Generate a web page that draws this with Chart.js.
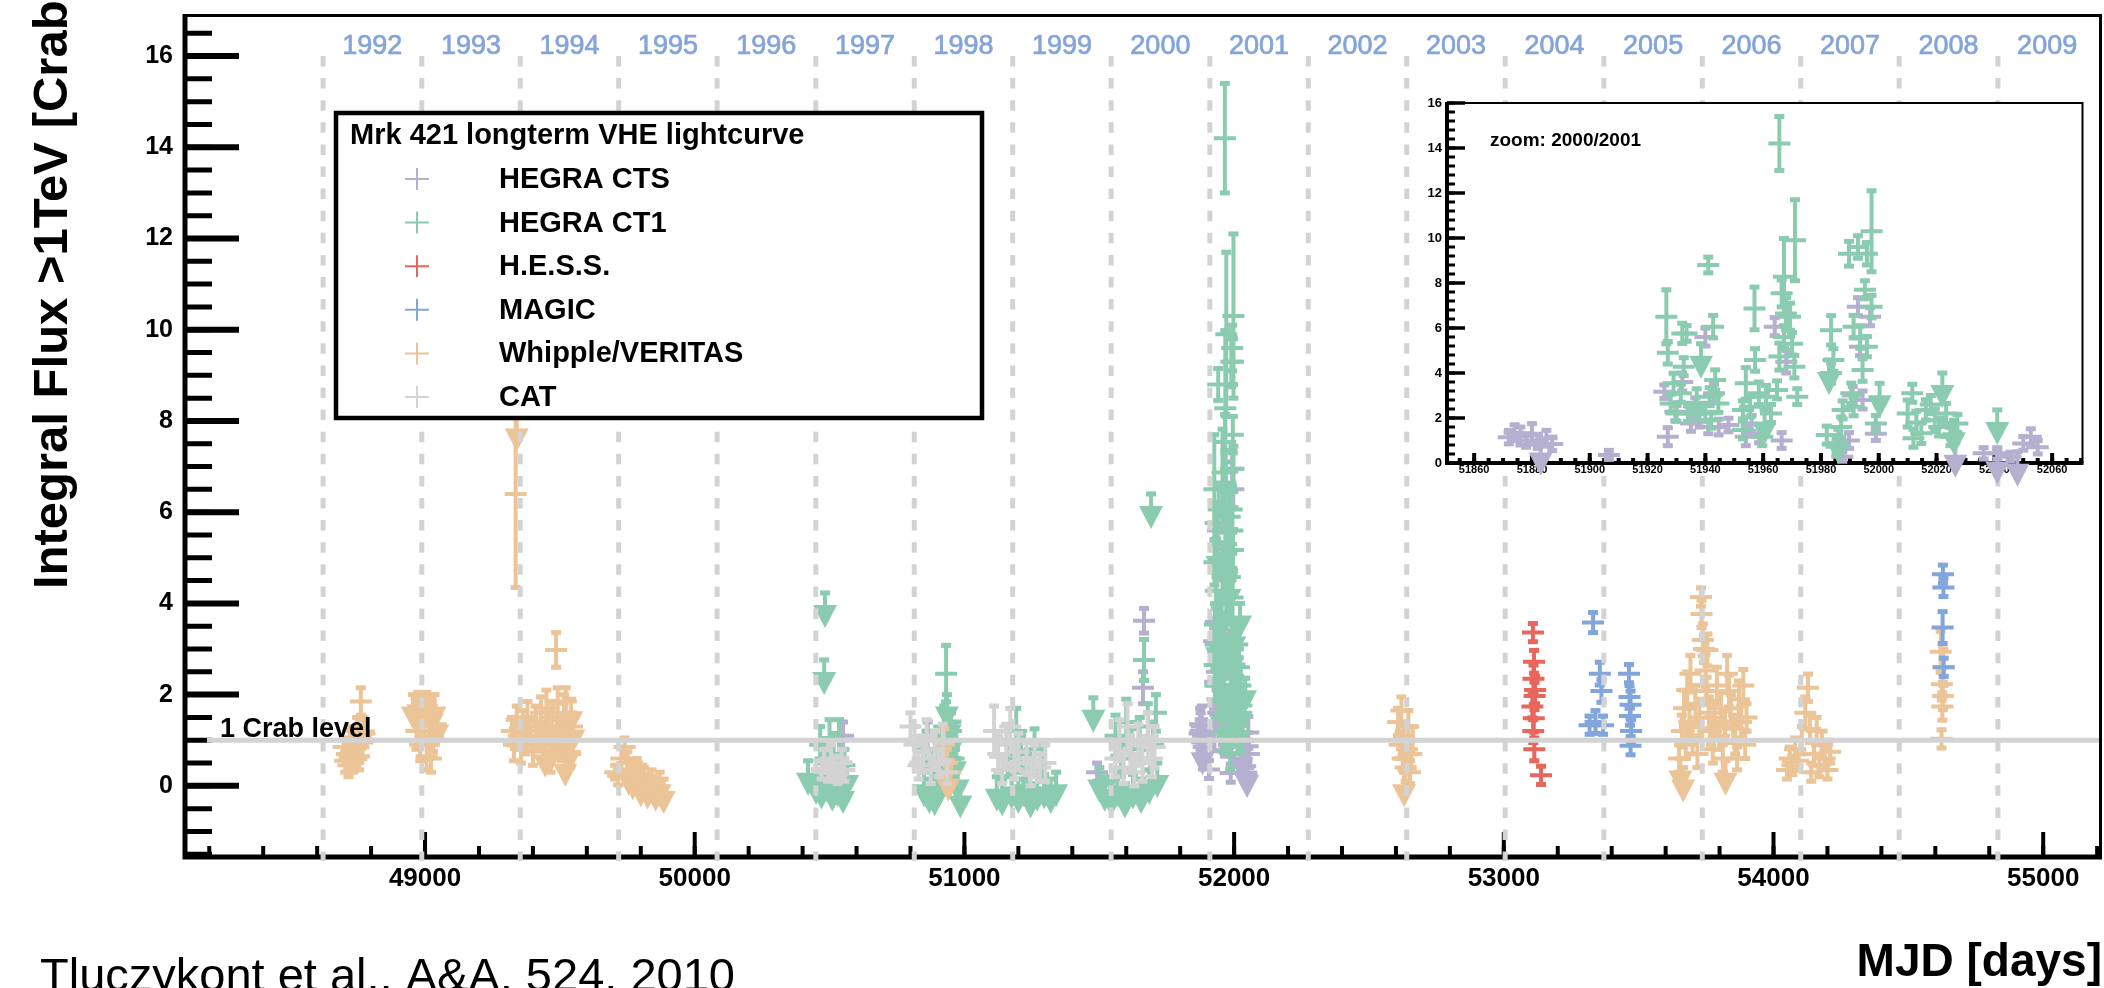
<!DOCTYPE html>
<html>
<head>
<meta charset="utf-8">
<title>Mrk 421 longterm VHE lightcurve</title>
<script src="https://cdn.jsdelivr.net/npm/chart.js@4.4.1/dist/chart.umd.min.js"></script>
<style>
  html, body { margin: 0; padding: 0; background: #fff; }
  #wrap { position: relative; width: 2104px; height: 988px; overflow: hidden; }
  #main { position: absolute; left: 0; top: 0; }
  #zoom { position: absolute; left: 1412px; top: 88px; }
</style>
</head>
<body>
<div id="wrap">
  <canvas id="main" width="2104" height="988"></canvas>
  <canvas id="zoom" width="678" height="400"></canvas>
</div>
<script>
// year markers: MJD of 1 January
const yearLabels = ["1992", "1993", "1994", "1995", "1996", "1997", "1998", "1999", "2000",
  "2001", "2002", "2003", "2004", "2005", "2006", "2007", "2008", "2009"]
const yearStarts = [48622, 48988, 49353, 49718, 50083, 50449, 50814, 51179, 51544,
  51910, 52275, 52640, 53005, 53371, 53736, 54101, 54466, 54832]

// labelled tick values
const xTicks = [49000, 50000, 51000, 52000, 53000, 54000, 55000]
const yTicks = [0, 2, 4, 6, 8, 10, 12, 14, 16]
const zoomXTicks = [51860, 51880, 51900, 51920, 51940, 51960, 51980, 52000, 52020, 52040, 52060]
const zoomYTicks = [0, 2, 4, 6, 8, 10, 12, 14, 16]

// detections are [MJD, flux in Crab units, error], limits are [MJD, upper limit]
const ctsPoints = [
  [50550, 1.1, 0.3], [50864, 1.1, 0.3], [51492, 0.3, 0.2], [51662, 2.15, 0.35], [51666, 3.62, 0.27],
  [51872, 1.15, 0.3], [51874, 1.35, 0.35], [51876, 1.2, 0.4], [51878, 1.0, 0.3], [51880, 1.3, 0.45],
  [51882, 0.95, 0.3], [51885, 1.1, 0.35], [51887, 0.85, 0.3], [51906.6, 0.36, 0.2],
  [51925.8, 3.17, 0.3], [51927, 1.17, 0.4], [51929.6, 2.28, 0.4], [51932, 3.6, 0.4], [51935, 1.76, 0.35],
  [51936.5, 2.5, 0.4], [51938, 1.9, 0.3], [51940, 5.6, 0.4], [51941, 1.6, 0.3], [51943, 3.1, 0.4],
  [51944.6, 1.6, 0.35], [51948, 1.69, 0.3], [51954, 1.17, 0.4], [51956, 1.76, 0.35], [51958.6, 1.3, 0.4],
  [51964, 6.06, 0.4], [51966.4, 1.0, 0.35], [51968, 4.5, 0.5], [51987.4, 0.28, 0.2], [51989.7, 1.0, 0.35],
  [51991, 3.0, 0.4], [51992.8, 6.95, 0.4], [51993.5, 5.17, 0.4], [51994.4, 2.8, 0.4], [51997, 6.5, 0.4],
  [51999, 1.3, 0.3], [52036.3, 0.43, 0.25], [52041, 0.43, 0.25], [52045.6, 0.28, 0.2], [52050, 0.87, 0.3],
  [52052.6, 1.17, 0.35], [52055, 0.7, 0.3],
]
const ctsLimits = [[51883, 1.0], [52026.5, 0.9], [52041, 0.6], [52048, 0.5]]

const ct1Points = [
  [50465, 0.9, 0.4], [50485, 0.6, 0.4], [50500, 1.05, 0.4], [50515, 0.7, 0.45], [50535, 1.0, 0.45], [50555, 0.45, 0.35],
  [50860, 0.8, 0.4], [50880, 0.4, 0.35], [50900, 0.7, 0.4], [50925, 1.3, 0.45], [50932, 2.46, 0.62], [50940, 0.9, 0.4],
  [50950, 1.2, 0.4], [50960, 0.6, 0.4], [50970, 1.0, 0.4],
  [51160, 0.6, 0.4], [51192, 1.2, 0.5], [51210, 0.7, 0.4], [51230, 0.4, 0.35], [51260, 0.8, 0.45], [51290, 0.5, 0.4],
  [51560, 1.1, 0.45], [51580, 0.6, 0.4], [51600, 1.4, 0.5], [51620, 0.8, 0.45], [51650, 1.0, 0.5], [51666, 2.76, 0.45],
  [51680, 1.3, 0.5], [51700, 0.9, 0.5], [51710, 1.6, 0.4],
  [51926.5, 6.5, 1.2], [51927, 4.9, 0.5], [51928, 2.65, 0.4], [51929, 3.54, 0.45], [51930, 2.2, 0.35],
  [51932, 5.76, 0.45], [51933.5, 5.76, 0.35], [51932.5, 4.28, 0.4], [51931.5, 3.1, 0.4], [51934, 2.2, 0.35],
  [51941, 8.8, 0.35], [51942.7, 6.06, 0.5], [51943.4, 3.69, 0.45], [51941.5, 2.95, 0.4], [51940, 2.2, 0.35],
  [51944.5, 2.65, 0.4], [51942, 1.9, 0.35],
  [51957, 6.87, 0.95], [51954, 3.54, 0.7], [51957.2, 4.58, 0.5], [51955.5, 2.5, 0.45], [51953, 2.36, 0.4],
  [51953, 1.47, 0.4], [51958.5, 3.1, 0.5], [51961, 2.95, 0.5], [51959.7, 1.17, 0.4], [51962.7, 2.2, 0.4],
  [51965.6, 14.2, 1.2], [51967.2, 8.28, 1.7], [51966.4, 7.54, 0.6], [51967.9, 6.65, 0.7], [51965.6, 4.73, 0.6],
  [51967.2, 5.6, 0.5], [51969.3, 6.5, 0.6], [51970, 5.3, 0.5], [51970.8, 4.28, 0.5], [51971, 9.9, 1.8],
  [51971.8, 2.95, 0.35], [51964.8, 3.25, 0.4],
  [51983.5, 5.9, 0.65], [51984.3, 4.58, 0.5], [51983.5, 4.0, 0.45], [51982, 1.24, 0.4], [51987, 1.6, 0.45],
  [51985.4, 0.72, 0.35], [51987.5, 2.36, 0.4],
  [51989.7, 9.3, 0.55], [51992.8, 9.6, 0.5], [51995.9, 9.3, 0.5], [51997.5, 10.3, 1.8], [51995.2, 7.7, 0.4],
  [51997.5, 6.95, 0.5], [51991.3, 6.06, 0.5], [51993.6, 5.6, 0.5], [51995.9, 5.17, 0.45], [51994.4, 4.13, 0.5],
  [51990.5, 3.1, 0.45], [51991.3, 2.5, 0.4], [51999, 1.76, 0.35],
  [52010, 2.2, 0.6], [52011.6, 3.1, 0.4], [52014.7, 1.32, 0.45], [52016.3, 2.36, 0.45], [52019.4, 1.9, 0.5],
  [52020.9, 1.6, 0.4], [52023.3, 2.2, 0.45], [52024.8, 1.17, 0.4], [52027.2, 1.76, 0.4], [52013, 1.8, 0.5],
  [52018, 2.6, 0.4], [52012, 1.1, 0.4],
]
const ct1Limits = [
  [50420, 0.55], [50450, 0.35], [50470, 0.25], [50483, 4.23], [50480, 2.76], [50490, 0.4], [50510, 0.2],
  [50530, 0.3], [50550, 0.15], [50565, 0.5],
  [50850, 0.3], [50870, 0.15], [50890, 0.1], [50910, 0.35], [50935, 2.0], [50945, 1.6], [50955, 1.3],
  [50965, 0.8], [50975, 0.4], [50985, 0.05],
  [51120, 0.2], [51140, 0.1], [51175, 0.25], [51200, 0.15], [51220, 0.3], [51245, 0.05], [51270, 0.2],
  [51295, 0.25], [51320, 0.15], [51340, 0.3],
  [51478, 1.93], [51500, 0.4], [51520, 0.2], [51545, 0.1], [51570, 0.3], [51595, 0.05], [51625, 0.25],
  [51655, 0.15], [51685, 0.35], [51692, 6.4], [51715, 0.5],
  [51938.5, 5.3], [51937, 3.3], [51960.5, 2.36], [51982.8, 4.58], [51986, 1.5], [52000.3, 3.54],
  [52022, 4.0], [52026, 1.9], [52041, 2.36],
]

const hessPoints = [
  [53108, 3.36, 0.2], [53112, 2.72, 0.25], [53110, 2.35, 0.3], [53116, 2.1, 0.3], [53114, 1.97, 0.3],
  [53106, 1.74, 0.25], [53111, 1.48, 0.3], [53109, 1.2, 0.25], [53113, 0.8, 0.25], [53138, 0.23, 0.2],
]

const magicPoints = [
  [53331, 3.58, 0.22], [53356, 2.46, 0.25], [53362, 2.08, 0.25], [53318, 1.33, 0.2], [53368, 1.33, 0.2],
  [53340, 1.4, 0.25], [53464, 2.46, 0.2], [53470, 1.78, 0.3], [53468, 1.53, 0.2], [53472, 1.2, 0.25],
  [53470, 0.88, 0.2], [53466, 1.95, 0.25],
  [54628, 4.64, 0.2], [54630, 4.35, 0.2], [54627, 3.47, 0.35], [54631, 2.6, 0.2],
]

const whipplePoints = [
  [48698, 0.85, 0.2], [48704, 0.55, 0.25], [48710, 0.7, 0.2], [48716, 0.45, 0.25], [48722, 1.0, 0.3],
  [48728, 0.6, 0.25], [48734, 0.5, 0.2], [48740, 0.8, 0.3], [48748, 1.2, 0.3], [48756, 0.65, 0.3],
  [48762, 1.85, 0.3], [48768, 0.95, 0.35], [48775, 1.15, 0.3],
  [48968, 1.2, 0.4], [48982, 0.9, 0.35], [48996, 1.4, 0.35], [49006, 0.65, 0.3], [49014, 0.9, 0.3],
  [49022, 0.6, 0.3], [49030, 1.1, 0.35], [49040, 1.35, 0.3],
  [49336, 6.4, 2.05],
  [49322, 1.2, 0.3], [49330, 0.9, 0.35], [49340, 1.45, 0.3], [49348, 1.1, 0.3], [49356, 0.8, 0.3],
  [49364, 1.3, 0.35], [49372, 1.0, 0.3], [49380, 1.5, 0.35], [49390, 1.2, 0.3], [49400, 0.75, 0.3],
  [49410, 1.4, 0.35], [49420, 1.1, 0.3], [49430, 1.6, 0.35], [49440, 0.9, 0.3], [49450, 1.7, 0.4],
  [49458, 1.3, 0.35], [49465, 0.6, 0.3], [49472, 1.5, 0.35], [49480, 1.0, 0.3], [49486, 2.98, 0.38],
  [49492, 1.8, 0.35], [49500, 1.2, 0.3], [49508, 0.85, 0.3], [49515, 1.6, 0.4], [49522, 1.85, 0.3],
  [49530, 1.1, 0.35], [49538, 0.7, 0.3], [49545, 1.3, 0.3],
  [49705, 0.3, 0.15], [49716, 0.22, 0.2], [49728, 0.6, 0.25], [49740, 0.85, 0.2], [49750, 0.5, 0.25],
  [49760, 0.35, 0.2], [49772, 0.15, 0.2], [49785, 0.4, 0.2], [49796, 0.1, 0.25], [49806, 0.25, 0.2],
  [49816, -0.05, 0.2], [49828, 0.05, 0.2],
  [50925, 0.9, 0.35], [50935, 0.5, 0.3], [50948, 0.3, 0.25],
  [52608, 1.4, 0.3], [52614, 0.9, 0.3], [52620, 1.65, 0.3], [52625, 0.6, 0.25], [52630, 1.1, 0.3],
  [52636, 0.4, 0.3], [52641, 0.8, 0.25], [52646, 1.3, 0.35], [52652, 0.3, 0.25], [52657, 0.7, 0.3],
  [52662, 1.0, 0.3],
  [53650, 0.6, 0.3], [53660, 1.2, 0.35], [53668, 1.7, 0.4], [53675, 0.9, 0.3], [53680, 2.1, 0.4],
  [53688, 1.4, 0.35], [53692, 2.46, 0.4], [53700, 1.0, 0.3], [53710, 1.8, 0.4], [53718, 0.7, 0.3],
  [53725, 1.5, 0.4], [53731, 4.14, 0.2], [53733, 3.77, 0.3], [53738, 3.2, 0.35], [53742, 3.0, 0.3],
  [53748, 2.53, 0.35], [53752, 2.08, 0.3], [53755, 2.98, 0.35], [53760, 1.6, 0.35], [53768, 1.2, 0.3],
  [53775, 0.8, 0.3], [53782, 1.5, 0.35], [53790, 2.2, 0.4], [53798, 1.1, 0.3], [53805, 1.7, 0.35],
  [53812, 0.6, 0.3], [53820, 1.3, 0.35], [53828, 2.46, 0.4], [53835, 2.08, 0.35], [53842, 1.7, 0.3],
  [53850, 1.25, 0.3], [53858, 1.0, 0.3], [53865, 0.6, 0.25], [53872, 1.9, 0.4], [53880, 1.4, 0.35],
  [53888, 2.2, 0.35], [53895, 0.9, 0.3], [53900, 1.5, 0.3],
  [54050, 0.35, 0.2], [54060, 0.6, 0.25], [54070, 0.45, 0.2], [54080, 0.8, 0.25], [54090, 0.55, 0.2],
  [54105, 1.0, 0.3], [54118, 1.6, 0.35], [54128, 2.15, 0.3], [54135, 1.25, 0.3], [54140, 0.3, 0.2],
  [54150, 0.7, 0.25], [54160, 1.2, 0.3], [54170, 0.45, 0.25], [54180, 0.9, 0.3], [54190, 0.6, 0.25],
  [54200, 0.35, 0.2], [54210, 0.75, 0.25],
  [54620, 2.94, 0.45], [54624, 2.23, 0.35], [54628, 1.97, 0.3], [54626, 1.74, 0.3], [54623, 1.03, 0.2],
  [54630, 2.6, 0.4],
]
const whippleLimits = [
  [48738, 1.3], [48772, 1.5],
  [48955, 2.0], [48965, 1.95], [48975, 2.05], [48985, 1.9], [48995, 2.0], [49005, 2.05], [49015, 1.95],
  [49025, 1.85], [49035, 2.0], [49045, 1.6],
  [49340, 8.1], [49445, 0.95], [49470, 1.1], [49500, 1.4], [49520, 0.75], [49535, 1.05], [49542, 1.9], [49550, 1.5],
  [49755, 0.55], [49770, 0.45], [49790, 0.5], [49800, 0.3], [49812, 0.4], [49825, 0.25], [49840, 0.35],
  [49855, 0.2], [49870, 0.3], [49885, 0.15],
  [50940, 0.42], [52630, 0.3], [53655, 0.6], [53665, 0.4], [53822, 0.55],
]

const catPoints = [
  [50470, 0.35, 0.2], [50480, 0.55, 0.25], [50495, 0.3, 0.2], [50505, 0.6, 0.3], [50520, 0.4, 0.25],
  [50530, 0.25, 0.2], [50545, 0.5, 0.3], [50555, 0.35, 0.25],
  [50800, 1.3, 0.3], [50815, 0.9, 0.4], [50830, 0.45, 0.3], [50845, 0.6, 0.3], [50860, 1.1, 0.35],
  [50875, 0.35, 0.3], [50890, 0.8, 0.4], [50905, 0.5, 0.3], [50920, 0.95, 0.4], [50935, 0.3, 0.25],
  [51110, 1.2, 0.55], [51125, 0.7, 0.4], [51140, 0.35, 0.3], [51155, 0.9, 0.45], [51170, 1.3, 0.4],
  [51185, 0.5, 0.35], [51200, 0.75, 0.4], [51230, 0.6, 0.35], [51245, 0.3, 0.3], [51260, 0.55, 0.35],
  [51280, 0.4, 0.3], [51300, 0.5, 0.4],
  [51560, 0.6, 0.4], [51575, 1.0, 0.45], [51590, 0.4, 0.35], [51605, 1.3, 0.5], [51615, 0.7, 0.4],
  [51630, 0.3, 0.3], [51645, 0.9, 0.45], [51660, 0.5, 0.4], [51680, 1.1, 0.5], [51695, 0.6, 0.4],
  [51705, 0.85, 0.45],
]

const FONT = "'Liberation Sans', Arial, Helvetica, sans-serif"
Chart.defaults.font.family = FONT

function makeSet(label, color, points, limits) {
  return {
    label: label,
    borderColor: color,
    backgroundColor: color,
    pointRadius: 0,
    pointHoverRadius: 0,
    showLine: false,
    data: points.map(p => ({ x: p[0], y: p[1], err: p[2] })),
    limits: (limits || []).map(p => ({ x: p[0], y: p[1] })),
  }
}

// legend order
const mainSets = [
  makeSet("HEGRA CTS", "#b5b0cf", ctsPoints, ctsLimits),
  makeSet("HEGRA CT1", "#8bccb0", ct1Points, ct1Limits),
  makeSet("H.E.S.S.", "#e8665c", hessPoints),
  makeSet("MAGIC", "#82a5dc", magicPoints),
  makeSet("Whipple/VERITAS", "#ebc497", whipplePoints, whippleLimits),
  makeSet("CAT", "#d3d3d3", catPoints),
]
// painting order, later ones end up on top
const drawSequence = [0, 1, 4, 5, 2, 3]

function drawErrorBar(ctx, px, py, lo, hi) {
  ctx.lineWidth = 4
  ctx.beginPath()
  ctx.moveTo(px, hi)
  ctx.lineTo(px, lo)
  ctx.moveTo(px - 11, py)
  ctx.lineTo(px + 11, py)
  ctx.stroke()
  ctx.fillRect(px - 5, hi - 2.5, 10, 5)
  ctx.fillRect(px - 5, lo - 2.5, 10, 5)
}

function drawLimit(ctx, px, py) {
  ctx.fillRect(px - 5, py - 2.5, 10, 5)
  ctx.lineWidth = 4
  ctx.beginPath()
  ctx.moveTo(px, py)
  ctx.lineTo(px, py + 14)
  ctx.stroke()
  ctx.beginPath()
  ctx.moveTo(px - 12, py + 12)
  ctx.lineTo(px + 12, py + 12)
  ctx.lineTo(px, py + 35)
  ctx.closePath()
  ctx.fill()
}

function drawMarks(chart, sets, onlyInside) {
  const ctx = chart.ctx
  const xs = chart.scales.x
  const ys = chart.scales.y
  const inside = p => !onlyInside || (p.x >= xs.min && p.x <= xs.max)
  ctx.save()
  sets.forEach(ds => {
    ctx.strokeStyle = ds.borderColor
    ctx.fillStyle = ds.borderColor
    ds.limits.filter(inside).forEach(p => {
      drawLimit(ctx, xs.getPixelForValue(p.x), ys.getPixelForValue(p.y))
    })
    ds.data.filter(inside).forEach(p => {
      drawErrorBar(ctx, xs.getPixelForValue(p.x), ys.getPixelForValue(p.y),
        ys.getPixelForValue(p.y - p.err), ys.getPixelForValue(p.y + p.err))
    })
  })
  ctx.restore()
}

// tick marks pointing into the plot
function innerTicks(chart, axis, step, len, width) {
  const ctx = chart.ctx
  const a = chart.chartArea
  const s = chart.scales[axis]
  const k0 = Math.ceil(s.min / step - 1e-6)
  const k1 = Math.floor(s.max / step + 1e-6)
  ctx.lineWidth = width
  ctx.beginPath()
  for (let k = k0; k <= k1; k++) {
    const p = s.getPixelForValue(k * step)
    if (axis === "y") {
      ctx.moveTo(a.left, p)
      ctx.lineTo(a.left + len, p)
    } else {
      ctx.moveTo(p, a.bottom)
      ctx.lineTo(p, a.bottom - len)
    }
  }
  ctx.stroke()
}

// fixed tick lists, no extra room reserved for the end labels
function fixedTicks(values, size) {
  return {
    afterBuildTicks: s => { s.ticks = values.map(v => ({ value: v })) },
    afterFit: s => {
      if (s.isHorizontal()) s.height = size
      else s.width = size
      s.paddingTop = 0
      s.paddingBottom = 0
      s.paddingLeft = 0
      s.paddingRight = 0
    },
  }
}

const mainDecor = {
  id: "mainDecor",
  afterDatasetsDraw(chart) {
    drawMarks(chart, drawSequence.map(i => chart.data.datasets[i]), false)
  },
  afterDraw(chart) {
    const ctx = chart.ctx
    const a = chart.chartArea
    const xs = chart.scales.x
    const ys = chart.scales.y
    ctx.save()

    // frame
    ctx.strokeStyle = "#000"
    ctx.lineWidth = 3
    ctx.beginPath()
    ctx.moveTo(a.left, a.top + 0.5)
    ctx.lineTo(a.right - 1.5, a.top + 0.5)
    ctx.lineTo(a.right - 1.5, a.bottom)
    ctx.stroke()
    ctx.lineWidth = 5
    ctx.beginPath()
    ctx.moveTo(a.left, a.top - 1)
    ctx.lineTo(a.left, a.bottom)
    ctx.lineTo(a.right, a.bottom)
    ctx.stroke()

    innerTicks(chart, "y", 0.5, 27, 5)
    innerTicks(chart, "y", 2, 54, 6)
    innerTicks(chart, "x", 200, 11, 4)
    innerTicks(chart, "x", 1000, 25, 4)

    // new-year lines and year names
    ctx.strokeStyle = "#d3d3d3"
    ctx.lineWidth = 5
    ctx.setLineDash([10.5, 11.6])
    yearStarts.forEach(m => {
      const px = xs.getPixelForValue(m)
      ctx.beginPath()
      ctx.moveTo(px, 56)
      ctx.lineTo(px, a.bottom + 4)
      ctx.stroke()
    })
    ctx.setLineDash([])
    ctx.fillStyle = "#84a4da"
    ctx.strokeStyle = "#84a4da"
    ctx.lineWidth = 0.7
    ctx.font = "27px " + FONT
    ctx.textAlign = "center"
    ctx.textBaseline = "middle"
    yearLabels.forEach((t, i) => {
      const px = xs.getPixelForValue(yearStarts[i] + 182.6)
      ctx.fillText(t, px, 47)
      ctx.strokeText(t, px, 47)
    })

    // 1 Crab reference level
    const crabY = ys.getPixelForValue(1)
    ctx.strokeStyle = "#d3d3d3"
    ctx.lineWidth = 5
    ctx.beginPath()
    ctx.moveTo(a.left + 22, crabY)
    ctx.lineTo(a.right - 3, crabY)
    ctx.stroke()
    ctx.fillStyle = "#000"
    ctx.font = "bold 27px " + FONT
    ctx.textAlign = "left"
    ctx.textBaseline = "alphabetic"
    ctx.fillText("1 Crab level", a.left + 35, crabY - 3)

    // legend box
    ctx.fillStyle = "#fff"
    ctx.fillRect(336, 113, 646, 305)
    ctx.strokeStyle = "#000"
    ctx.lineWidth = 4.5
    ctx.strokeRect(336, 113, 646, 305)
    ctx.fillStyle = "#000"
    ctx.font = "bold 29px " + FONT
    ctx.textBaseline = "middle"
    ctx.fillText("Mrk 421 longterm VHE lightcurve", 350, 136)
    chart.data.datasets.forEach((ds, i) => {
      const ly = 179 + i * 43.6
      ctx.strokeStyle = ds.borderColor
      ctx.lineWidth = 2
      ctx.beginPath()
      ctx.moveTo(405, ly)
      ctx.lineTo(429, ly)
      ctx.moveTo(417, ly - 11)
      ctx.lineTo(417, ly + 11)
      ctx.stroke()
      ctx.fillStyle = "#000"
      ctx.fillText(ds.label, 499, ly + 1)
    })

    // axis title along the flux axis
    ctx.save()
    ctx.translate(53, 589)
    ctx.rotate(-Math.PI / 2)
    ctx.font = "bold 49px " + FONT
    ctx.textAlign = "left"
    ctx.textBaseline = "middle"
    ctx.fillText("Integral Flux >1TeV [Crab]", 0, 0)
    ctx.restore()

    // reference
    ctx.font = "47px " + FONT
    ctx.textAlign = "left"
    ctx.textBaseline = "alphabetic"
    ctx.fillText("Tluczykont et al., A&A, 524, 2010", 40, 991)
    ctx.restore()
  },
}

new Chart(document.getElementById("main"), {
  type: "scatter",
  data: { datasets: mainSets },
  options: {
    responsive: false,
    animation: false,
    devicePixelRatio: 1,
    events: [],
    layout: { padding: { top: 15, right: 2, left: 0, bottom: 0 } },
    plugins: { legend: { display: false }, tooltip: { enabled: false } },
    scales: {
      x: Object.assign({
        type: "linear",
        min: 48110,
        max: 55218,
        grid: { display: false, drawTicks: false },
        border: { display: false },
        ticks: {
          autoSkip: false, maxRotation: 0,
          padding: 6, color: "#000", font: { size: 26, weight: "bold" },
          callback: v => String(v),
        },
        title: {
          display: true, text: "MJD [days]", align: "end", color: "#000",
          font: { size: 46, weight: "bold", lineHeight: 1 }, padding: { top: 0, bottom: 2 },
        },
      }, fixedTicks(xTicks, 131)),
      y: Object.assign({
        type: "linear",
        min: -1.56,
        max: 16.9,
        grid: { display: false, drawTicks: false },
        border: { display: false },
        ticks: {
          autoSkip: false,
          padding: 12, color: "#000", font: { size: 25, weight: "bold" },
          callback: v => String(v),
        },
      }, fixedTicks(yTicks, 185)),
    },
  },
  plugins: [mainDecor],
})

// 2000/2001 zoom panel, same CTS and CT1 values
const zoomMin = 51850.6
const zoomMax = 52070.5
const inZoom = p => p[0] >= zoomMin && p[0] <= zoomMax
const zoomSets = [
  makeSet("HEGRA CTS", "#b5b0cf", ctsPoints.filter(inZoom), ctsLimits.filter(inZoom)),
  makeSet("HEGRA CT1", "#8bccb0", ct1Points.filter(inZoom), ct1Limits.filter(inZoom)),
]

const zoomDecor = {
  id: "zoomDecor",
  beforeDraw(chart) {
    const a = chart.chartArea
    chart.ctx.save()
    chart.ctx.fillStyle = "#fff"
    chart.ctx.fillRect(a.left, a.top, a.right - a.left, a.bottom - a.top)
    chart.ctx.restore()
  },
  beforeDatasetsDraw(chart) {
    const ctx = chart.ctx
    const a = chart.chartArea
    ctx.save()
    ctx.strokeStyle = "#000"
    ctx.lineWidth = 2
    ctx.beginPath()
    ctx.moveTo(a.left, a.top)
    ctx.lineTo(a.right, a.top)
    ctx.lineTo(a.right, a.bottom)
    ctx.stroke()
    ctx.lineWidth = 4
    ctx.beginPath()
    ctx.moveTo(a.left, a.top - 1)
    ctx.lineTo(a.left, a.bottom)
    ctx.lineTo(a.right + 1, a.bottom)
    ctx.stroke()
    innerTicks(chart, "y", 0.4, 8, 3)
    innerTicks(chart, "y", 2, 18, 3.5)
    innerTicks(chart, "x", 5, 5, 4)
    innerTicks(chart, "x", 20, 10, 4)
    ctx.fillStyle = "#000"
    ctx.font = "bold 19px " + FONT
    ctx.textAlign = "left"
    ctx.textBaseline = "middle"
    ctx.fillText("zoom: 2000/2001", a.left + 43, a.top + 38)
    ctx.restore()
  },
  afterDatasetsDraw(chart) {
    drawMarks(chart, chart.data.datasets, true)
  },
}

new Chart(document.getElementById("zoom"), {
  type: "scatter",
  data: { datasets: zoomSets },
  options: {
    responsive: false,
    animation: false,
    devicePixelRatio: 1,
    events: [],
    layout: { padding: { top: 15, right: 7.5, left: 0, bottom: 0 } },
    plugins: { legend: { display: false }, tooltip: { enabled: false } },
    scales: {
      x: Object.assign({
        type: "linear",
        min: zoomMin,
        max: zoomMax,
        grid: { display: false, drawTicks: false },
        border: { display: false },
        ticks: {
          autoSkip: false, maxRotation: 0,
          padding: 0, color: "#000", font: { size: 11, weight: "bold" },
          callback: v => String(v),
        },
      }, fixedTicks(zoomXTicks, 25)),
      y: Object.assign({
        type: "linear",
        min: 0,
        max: 16,
        grid: { display: false, drawTicks: false },
        border: { display: false },
        ticks: {
          autoSkip: false,
          padding: 5, color: "#000", font: { size: 13, weight: "bold" },
          callback: v => String(v),
        },
      }, fixedTicks(zoomYTicks, 35)),
    },
  },
  plugins: [zoomDecor],
})
</script>
</body>
</html>
